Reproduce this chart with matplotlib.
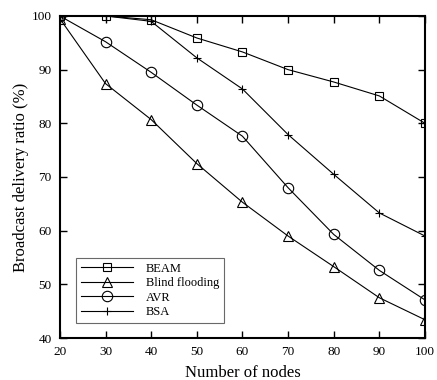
import numpy as np
import matplotlib
matplotlib.use('Agg')
import matplotlib.pyplot as plt

plt.rcParams['font.family'] = ['Liberation Serif', 'DejaVu Serif']

nodes = [20, 30, 40, 50, 60, 70, 80, 90, 100]
beam = [100, 100, 99.3, 95.9, 93.3, 90.0, 87.7, 85.1, 80.0]
blind = [99.5, 87.4, 80.7, 72.5, 65.3, 59.0, 53.3, 47.5, 43.4]
avr = [100, 95.2, 89.5, 83.4, 77.6, 68.0, 59.3, 52.6, 47.1]
bsa = [100, 100, 99.0, 92.2, 86.4, 77.9, 70.5, 63.3, 59.0]

fig = plt.figure(figsize=(4.37, 3.80), dpi=100)
ax = fig.add_axes([0.137, 0.1105, 0.8355, 0.8475])

ax.plot(nodes, beam, color='black', lw=0.8, marker='s', ms=5.5, mfc='none', mew=0.8, label='BEAM')
ax.plot(nodes, blind, color='black', lw=0.8, marker='^', ms=6.5, mfc='none', mew=0.8, label='Blind flooding')
ax.plot(nodes, avr, color='black', lw=0.8, marker='o', ms=7.5, mfc='none', mew=0.8, label='AVR')
ax.plot(nodes, bsa, color='black', lw=0.8, marker='+', ms=6, mew=0.8, label='BSA')

ax.set_xlim(20, 100)
ax.set_ylim(40, 100)
ax.set_xticks(range(20, 101, 10))
ax.set_yticks(range(40, 101, 10))
ax.tick_params(direction='in', length=5, width=1, top=True, right=True, labelsize=9.5, pad=6)
for s in ax.spines.values():
    s.set_linewidth(1.5)

ax.set_xlabel('Number of nodes', fontsize=12, labelpad=5)
ax.set_ylabel('Broadcast delivery ratio (%)', fontsize=12, labelpad=2)

leg = ax.legend(loc='lower left', bbox_to_anchor=(0.043, 0.046), fontsize=9, frameon=True,
                fancybox=False, edgecolor='#444444', borderaxespad=0, handlelength=4.2,
                labelspacing=0.2, handletextpad=1.0, borderpad=0.4)
leg.get_frame().set_linewidth(0.8)

plt.savefig('out.png', dpi=100)
